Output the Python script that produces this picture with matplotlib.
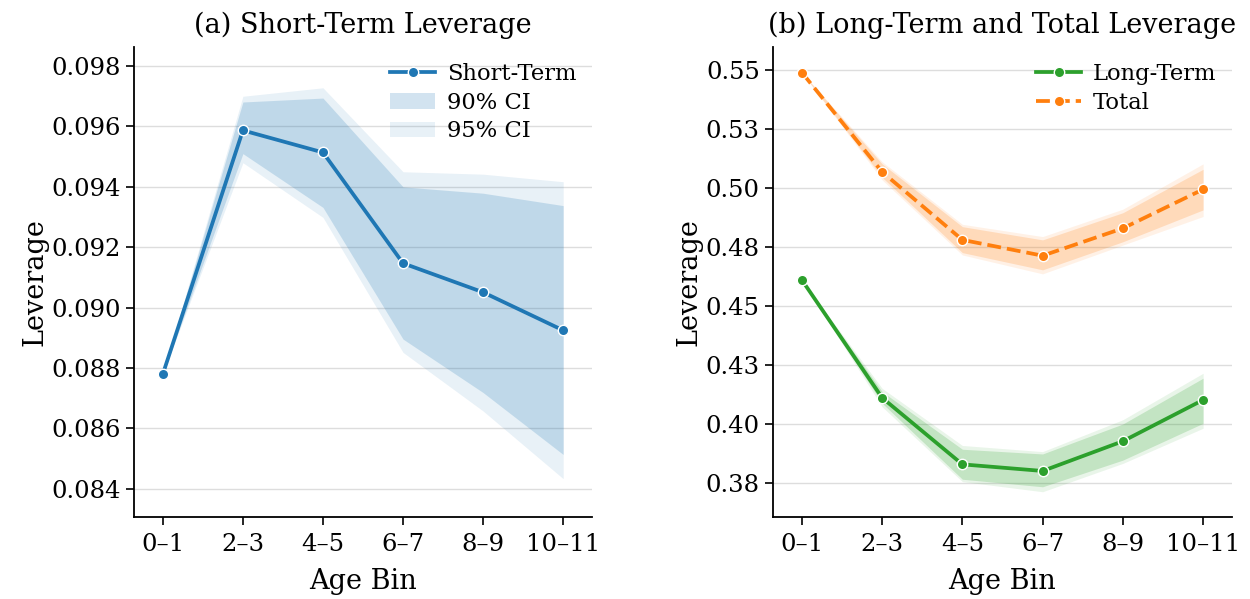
import matplotlib
matplotlib.use("Agg")
import matplotlib.pyplot as plt
from matplotlib.ticker import FixedLocator, FixedFormatter
from matplotlib.patches import Patch
from matplotlib.lines import Line2D

plt.rcParams['font.family'] = ['DejaVu Serif']

age_bins = ['0–1', '2–3', '4–5', '6–7', '8–9', '10–11']

# short-term leverage (panel a)
short_term = [0.0878, 0.09587, 0.09514, 0.09147, 0.09051, 0.08925]
short_lo90 = [0.0878, 0.0951, 0.09332, 0.08896, 0.08719, 0.08514]
short_hi90 = [0.0878, 0.09681, 0.09694, 0.0940, 0.09379, 0.09338]
short_lo95 = [0.0878, 0.0948, 0.09299, 0.08852, 0.08658, 0.08434]
short_hi95 = [0.0878, 0.09700, 0.09728, 0.09450, 0.09442, 0.09417]

# long-term leverage (panel b)
long_term = [0.4610, 0.4111, 0.3829, 0.3801, 0.3927, 0.4102]
long_lo90 = [0.4610, 0.4088, 0.3766, 0.3734, 0.3847, 0.4003]
long_hi90 = [0.4610, 0.4137, 0.3893, 0.3873, 0.4000, 0.4194]
long_lo95 = [0.4610, 0.4073, 0.3756, 0.3713, 0.3833, 0.3982]
long_hi95 = [0.4610, 0.4151, 0.3909, 0.3883, 0.4018, 0.4215]

# total leverage (panel b)
total = [0.5489, 0.5068, 0.4780, 0.4713, 0.4829, 0.4994]
total_lo90 = [0.5489, 0.5045, 0.4726, 0.4653, 0.4772, 0.4907]
total_hi90 = [0.5489, 0.5102, 0.4836, 0.4780, 0.4895, 0.5079]
total_lo95 = [0.5489, 0.5034, 0.4716, 0.4636, 0.4758, 0.4879]
total_hi95 = [0.5489, 0.5111, 0.4846, 0.4794, 0.4910, 0.5102]

left_ticks = [0.084, 0.086, 0.088, 0.090, 0.092, 0.094, 0.096, 0.098]
left_labels = ['0.084', '0.086', '0.088', '0.090', '0.092', '0.094', '0.096', '0.098']
right_ticks = [0.375, 0.400, 0.425, 0.450, 0.475, 0.500, 0.525, 0.550]
right_labels = ['0.38', '0.40', '0.43', '0.45', '0.48', '0.50', '0.53', '0.55']

blue = '#1f77b4'
orange = '#ff7f0e'
green = '#2ca02c'

fig = plt.figure(figsize=(12.5, 5.99), dpi=100)
ax1 = fig.add_axes([0.1072, 0.1369, 0.3664, 0.7846])
ax2 = fig.add_axes([0.6184, 0.1369, 0.3672, 0.7846])

x = list(range(len(age_bins)))
line_kw = dict(lw=2.7, marker='o', markersize=7.5, markeredgecolor='white', markeredgewidth=1.0)

# panel a
ax1.fill_between(x, short_lo95, short_hi95, color=blue, alpha=0.1, lw=0)
ax1.fill_between(x, short_lo90, short_hi90, color=blue, alpha=0.2, lw=0)
ax1.plot(x, short_term, color=blue, zorder=3, **line_kw)
ax1.set_ylim(0.08307, 0.09863)
ax1.yaxis.set_major_locator(FixedLocator(left_ticks))
ax1.yaxis.set_major_formatter(FixedFormatter(left_labels))
ax1.set_title('(a) Short-Term Leverage', fontsize=19.5, pad=10)
handles = [Line2D([], [], color=blue, **line_kw),
           Patch(facecolor=blue, alpha=0.2, lw=0),
           Patch(facecolor=blue, alpha=0.1, lw=0)]
ax1.legend(handles, ['Short-Term', '90% CI', '95% CI'], loc='upper right',
           frameon=False, fontsize=16.3, borderaxespad=0.3, handletextpad=0.5,
           labelspacing=0.3)

# panel b
for lo95, hi95, lo90, hi90, c in [(long_lo95, long_hi95, long_lo90, long_hi90, green),
                                  (total_lo95, total_hi95, total_lo90, total_hi90, orange)]:
    ax2.fill_between(x, lo95, hi95, color=c, alpha=0.1, lw=0)
    ax2.fill_between(x, lo90, hi90, color=c, alpha=0.2, lw=0)
ax2.plot(x, long_term, color=green, label='Long-Term', zorder=3, **line_kw)
ax2.plot(x, total, color=orange, ls='--', label='Total', zorder=3, **line_kw)
ax2.set_ylim(0.3606, 0.5597)
ax2.yaxis.set_major_locator(FixedLocator(right_ticks))
ax2.yaxis.set_major_formatter(FixedFormatter(right_labels))
ax2.set_title('(b) Long-Term and Total Leverage', fontsize=19.5, pad=10)
ax2.legend(loc='upper right', frameon=False, fontsize=16.3, borderaxespad=0.3,
           handletextpad=0.5, labelspacing=0.3)

for ax in (ax1, ax2):
    ax.set_xlim(-0.36, 5.36)
    ax.set_xticks(x)
    ax.set_xticklabels(age_bins)
    ax.set_xlabel('Age Bin', fontsize=19.5, labelpad=9)
    ax.set_ylabel('Leverage', fontsize=19.5, labelpad=2)
    ax.tick_params(labelsize=17.5, length=6, width=1.2)
    ax.tick_params(axis='x', pad=5.5)
    ax.grid(axis='y', color='#dddddd', lw=1)
    ax.set_axisbelow(True)
    ax.spines['top'].set_visible(False)
    ax.spines['right'].set_visible(False)
    ax.spines['left'].set_linewidth(1.3)
    ax.spines['bottom'].set_linewidth(1.3)

fig.savefig('out.png', dpi=100)
